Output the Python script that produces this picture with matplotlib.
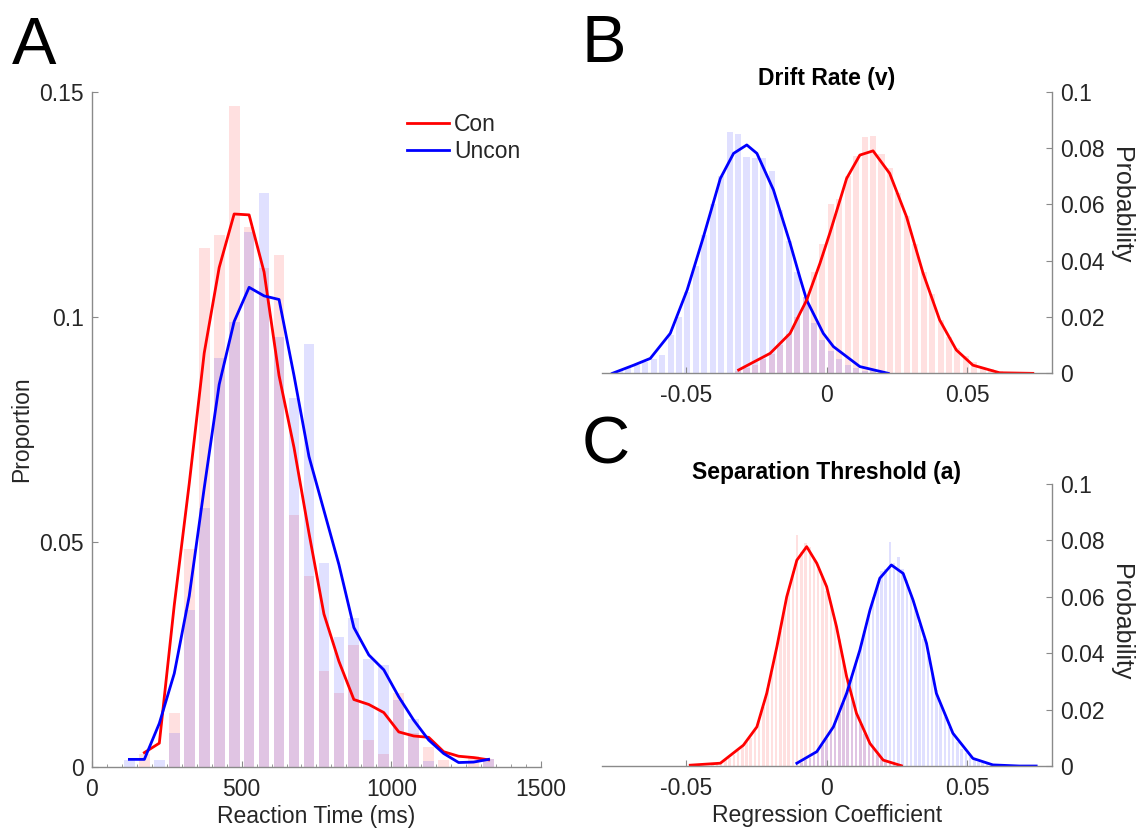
import numpy as np
import matplotlib
matplotlib.use("Agg")
import matplotlib.pyplot as plt

plt.rcParams['font.family'] = ['Liberation Sans', 'DejaVu Sans']

# ---- panel A: reaction time distributions ----
rt_centers = np.arange(125, 1326, 50)
rt_hist_con = [0.0, 0.003, 0.0, 0.0121, 0.0484, 0.1153, 0.1182, 0.147, 0.120, 0.1108,
               0.1138, 0.0561, 0.0424, 0.0213, 0.0164, 0.0272, 0.006, 0.003, 0.0164,
               0.0075, 0.0045, 0.0016, 0.0, 0.0025, 0.0017]
rt_hist_uncon = [0.0016, 0.0, 0.0016, 0.0076, 0.0349, 0.0576, 0.091, 0.0989, 0.119, 0.1275,
                 0.0956, 0.0819, 0.094, 0.0454, 0.0288, 0.0332, 0.0241, 0.0227, 0.015,
                 0.0106, 0.0014, 0.0, 0.0, 0.0, 0.0017]
rt_line_con = [np.nan, 0.0032, 0.0053, 0.036, 0.063, 0.092, 0.111, 0.1229, 0.1227, 0.110,
               0.087, 0.071, 0.052, 0.034, 0.0235, 0.015, 0.0139, 0.0121, 0.0078,
               0.0069, 0.0066, 0.0034, 0.0024, 0.0021, 0.0016]
rt_line_uncon = [0.0017, 0.0017, 0.0097, 0.0208, 0.038, 0.062, 0.085, 0.099, 0.1066, 0.1047,
                 0.1039, 0.087, 0.069, 0.057, 0.045, 0.031, 0.0249, 0.0216, 0.0156,
                 0.0104, 0.006, 0.003, 0.001, 0.0011, 0.0017]

# ---- panel B: drift rate posterior ----
v_bin = 0.003
v_centers_uncon = np.arange(-0.0735, 0.0196, v_bin)
v_hist_uncon = [0.001, 0.002, 0.003, 0.004, 0.005, 0.0065, 0.0136, 0.020, 0.029, 0.038,
                0.049, 0.060, 0.070, 0.0856, 0.0849, 0.0769, 0.0766, 0.0766, 0.072, 0.058,
                0.047, 0.036, 0.027, 0.018, 0.012, 0.008, 0.005, 0.003, 0.002, 0.001,
                0.0008, 0.0004]
v_centers_con = np.arange(-0.0315, 0.0706, v_bin)
v_hist_con = [0.001, 0.002, 0.003, 0.005, 0.007, 0.010, 0.014, 0.020, 0.027, 0.036,
              0.046, 0.060, 0.062, 0.070, 0.077, 0.0838, 0.0843, 0.078, 0.0728, 0.064,
              0.056, 0.046, 0.036, 0.028, 0.019, 0.013, 0.009, 0.006, 0.004, 0.002,
              0.0015, 0.001, 0.0006, 0.0003, 0.0002]
v_line_uncon_x = [-0.0762, -0.0686, -0.0627, -0.0556, -0.0496, -0.0438, -0.0378, -0.0331,
                  -0.0284, -0.0248, -0.0189, -0.0130, -0.0095, -0.0071, -0.0012, 0.0024,
                  0.0118, 0.0219]
v_line_uncon_y = [0.0, 0.0029, 0.0053, 0.0142, 0.0296, 0.0485, 0.0692, 0.0781, 0.0811,
                  0.0781, 0.0651, 0.0462, 0.0340, 0.026, 0.0142, 0.0095, 0.0024, 0.0]
v_line_con_x = [-0.0313, -0.0201, -0.0130, -0.0095, -0.0071, -0.0024, 0.0012, 0.0071,
                0.0118, 0.0165, 0.0224, 0.0284, 0.0343, 0.0402, 0.0461, 0.0520, 0.0615,
                0.0733]
v_line_con_y = [0.0012, 0.0071, 0.0142, 0.0213, 0.026, 0.039, 0.050, 0.0692, 0.0775,
                0.0790, 0.0710, 0.0556, 0.0355, 0.0189, 0.0083, 0.0029, 0.0002, 0.0]

# ---- panel C: separation threshold posterior ----
a_bin = 0.0015
a_centers_con = np.arange(-0.0405, 0.0256, a_bin)
a_hist_con = [0.0005, 0.0008, 0.0012, 0.0020, 0.0030, 0.0040, 0.0055, 0.0070, 0.0085,
              0.0100, 0.0125, 0.0165, 0.0210, 0.0275, 0.0330, 0.0410, 0.0480, 0.0560,
              0.0620, 0.0690, 0.0819, 0.0760, 0.0790, 0.0775, 0.0740, 0.0700, 0.0670,
              0.0620, 0.0570, 0.0510, 0.0450, 0.0370, 0.0300, 0.0240, 0.0190, 0.0150,
              0.0115, 0.0085, 0.0060, 0.0040, 0.0025, 0.0015, 0.0010, 0.0006, 0.0003]
a_centers_uncon = np.arange(-0.0105, 0.0601, a_bin)
a_hist_uncon = [0.0008, 0.0012, 0.0020, 0.0028, 0.0040, 0.0055, 0.0075, 0.0095, 0.0120,
                0.0150, 0.0185, 0.0225, 0.0270, 0.0320, 0.0370, 0.0420, 0.0480, 0.0540,
                0.0600, 0.0640, 0.0690, 0.0700, 0.0796, 0.0720, 0.0740, 0.0700, 0.0660,
                0.0610, 0.0560, 0.0500, 0.0450, 0.0390, 0.0330, 0.0270, 0.0220, 0.0175,
                0.0140, 0.0110, 0.0085, 0.0062, 0.0045, 0.0032, 0.0022, 0.0015, 0.0010,
                0.0006, 0.0004, 0.0002]
a_line_con_x = [-0.0485, -0.0378, -0.0296, -0.0248, -0.0213, -0.0177, -0.0142, -0.0106,
                -0.0071, -0.0035, 0.0, 0.0035, 0.0071, 0.0106, 0.0154, 0.0201, 0.0266]
a_line_con_y = [0.0003, 0.001, 0.0074, 0.0139, 0.0258, 0.0423, 0.060, 0.073, 0.0778,
                0.0719, 0.0636, 0.0494, 0.0317, 0.0187, 0.008, 0.0021, 0.0001]
a_line_uncon_x = [-0.0106, -0.0035, 0.0024, 0.0071, 0.0118, 0.0154, 0.0189, 0.0230, 0.0272,
                  0.0307, 0.0355, 0.0390, 0.0449, 0.0520, 0.0591, 0.0685, 0.0745]
a_line_uncon_y = [0.001, 0.0051, 0.0139, 0.0258, 0.0411, 0.0553, 0.0666, 0.0713, 0.0683,
                  0.0589, 0.0435, 0.0258, 0.0116, 0.0027, 0.0004, 0.0, 0.0]

RED = '#ff0000'
BLUE = '#0000ff'
AXC = '#8a8a8a'
TXT = '#262626'
FS = 16.5


def style_axes(ax, side='left'):
    ax.spines['top'].set_visible(False)
    hide = 'right' if side == 'left' else 'left'
    ax.spines[hide].set_visible(False)
    for s in ['bottom', side]:
        ax.spines[s].set_color(AXC)
        ax.spines[s].set_linewidth(1.0)
    ax.tick_params(direction='in', length=4, width=0.8, color=AXC,
                   labelcolor=TXT, labelsize=FS)
    ax.tick_params(axis='x', pad=8)
    ax.tick_params(axis='y', pad=6)
    if side == 'right':
        ax.yaxis.tick_right()
        ax.yaxis.set_label_position('right')


fig = plt.figure(figsize=(11.41, 8.33), dpi=100)

# panel A
axA = fig.add_axes([0.0806, 0.0792, 0.3935, 0.8103])
bw = 50 * 0.72
axA.bar(rt_centers, rt_hist_con, width=bw, color=RED, alpha=0.12, linewidth=0)
axA.bar(rt_centers, rt_hist_uncon, width=bw, color=BLUE, alpha=0.12, linewidth=0)
axA.plot(rt_centers, rt_line_con, color=RED, lw=2, label='Con')
axA.plot(rt_centers, rt_line_uncon, color=BLUE, lw=2, label='Uncon')
axA.set_xlim(0, 1500)
axA.set_ylim(0, 0.15)
axA.set_xticks([0, 500, 1000, 1500])
axA.set_yticks([0, 0.05, 0.1, 0.15])
axA.set_yticklabels(['0', '0.05', '0.1', '0.15'])
axA.set_xticks(np.arange(0, 1501, 50), minor=True)
style_axes(axA, 'left')
axA.tick_params(which='minor', direction='in', length=2, width=0.6, color=AXC)
axA.set_xlabel('Reaction Time (ms)', fontsize=FS, color=TXT, labelpad=3)
axA.set_ylabel('Proportion', fontsize=FS, color=TXT, labelpad=4)
axA.legend(loc='upper left', bbox_to_anchor=(0.655, 1.0), frameon=False,
           fontsize=FS, handlelength=1.85, handletextpad=0.22, labelspacing=0.2,
           labelcolor=TXT)

# panel B
axB = fig.add_axes([0.5273, 0.5518, 0.3944, 0.3381])
axB.bar(v_centers_con, v_hist_con, width=v_bin * 0.72, color=RED, alpha=0.12, linewidth=0)
axB.bar(v_centers_uncon, v_hist_uncon, width=v_bin * 0.72, color=BLUE, alpha=0.12, linewidth=0)
axB.plot(v_line_uncon_x, v_line_uncon_y, color=BLUE, lw=2)
axB.plot(v_line_con_x, v_line_con_y, color=RED, lw=2)
axB.set_title('Drift Rate (v)', fontsize=FS, fontweight='bold', pad=5)

# panel C
axC = fig.add_axes([0.5273, 0.0804, 0.3944, 0.3385])
axC.bar(a_centers_con, a_hist_con, width=a_bin * 0.6, color=RED, alpha=0.12, linewidth=0)
axC.bar(a_centers_uncon, a_hist_uncon, width=a_bin * 0.6, color=BLUE, alpha=0.12, linewidth=0)
axC.plot(a_line_con_x, a_line_con_y, color=RED, lw=2)
axC.plot(a_line_uncon_x, a_line_uncon_y, color=BLUE, lw=2)
axC.set_title('Separation Threshold (a)', fontsize=FS, fontweight='bold', pad=2)
axC.set_xlabel('Regression Coefficient', fontsize=FS, color=TXT, labelpad=3)

for ax, label_y in ((axB, 0.598), (axC, 0.51)):
    ax.set_xlim(-0.08, 0.08)
    ax.set_ylim(0, 0.1)
    ax.set_xticks([-0.05, 0, 0.05])
    ax.set_xticklabels(['-0.05', '0', '0.05'])
    ax.set_yticks([0, 0.02, 0.04, 0.06, 0.08, 0.1])
    ax.set_yticklabels(['0', '0.02', '0.04', '0.06', '0.08', '0.1'])
    style_axes(ax, 'right')
    ax.set_ylabel('Probability', fontsize=18, color=TXT, rotation=-90,
                  va='center', ha='center')
    ax.yaxis.set_label_coords(1.154, label_y)

# panel letters
fig.text(0.010, 0.923, 'A', fontsize=48, va='baseline', ha='left')
fig.text(0.510, 0.925, 'B', fontsize=48, va='baseline', ha='left')
fig.text(0.510, 0.444, 'C', fontsize=48, va='baseline', ha='left')

fig.savefig('out.png', dpi=100)
